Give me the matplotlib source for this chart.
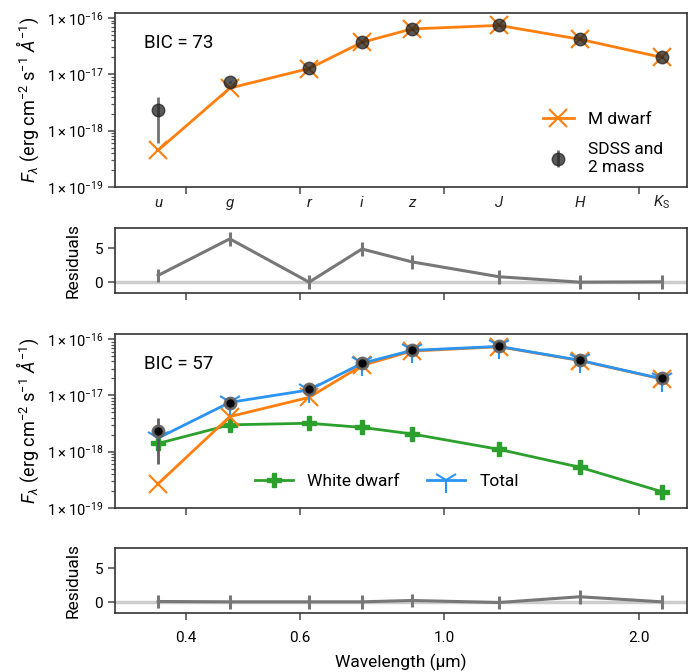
import matplotlib
matplotlib.use("Agg")
import matplotlib.pyplot as plt
from matplotlib.ticker import LogLocator, NullFormatter, FixedLocator, FixedFormatter, NullLocator

plt.rcParams["font.family"] = ["Roboto", "DejaVu Sans"]
plt.rcParams["mathtext.fontset"] = "custom"
plt.rcParams["mathtext.rm"] = "Roboto"
plt.rcParams["mathtext.it"] = "Roboto:italic"
plt.rcParams["mathtext.bf"] = "Roboto:bold"

# バンド (µm)
bands = ["u", "g", "r", "i", "z", "J", "H", r"K$_\mathrm{S}$"]
wavelength = [0.362, 0.467, 0.619, 0.747, 0.892, 1.216, 1.62, 2.17]

# 観測値 (SDSS + 2MASS)
obs_flux = [2.3e-18, 7.2e-18, 1.28e-17, 3.7e-17, 6.4e-17, 7.4e-17, 4.2e-17, 2.0e-17]
obs_err_lo = [1.7e-18, 0.3e-18, 0.5e-18, 1.5e-18, 2.5e-18, 3e-18, 1.5e-18, 0.8e-18]
obs_err_hi = [1.6e-18, 0.3e-18, 0.5e-18, 1.5e-18, 2.5e-18, 3e-18, 1.5e-18, 0.8e-18]

# 上段: M dwarf のみ
mdwarf_only = [4.5e-19, 5.7e-18, 1.27e-17, 3.7e-17, 6.4e-17, 7.4e-17, 4.2e-17, 2.0e-17]
resid_only = [1.0, 6.4, 0.0, 4.9, 3.0, 0.8, 0.0, 0.05]

# 下段: M dwarf + white dwarf
mdwarf_fit = [2.7e-19, 4.2e-18, 9.2e-18, 3.4e-17, 6.1e-17, 7.3e-17, 4.15e-17, 1.95e-17]
wdwarf_fit = [1.4e-18, 3.0e-18, 3.2e-18, 2.7e-18, 2.07e-18, 1.1e-18, 5.3e-19, 1.95e-19]
total_fit = [1.75e-18, 7.5e-18, 1.25e-17, 3.7e-17, 6.3e-17, 7.4e-17, 4.2e-17, 1.97e-17]
resid_fit = [0.1, 0.05, 0.05, 0.05, 0.25, -0.05, 0.8, 0.05]
resid_err = [1.0] * 8

xticks = [0.4, 0.6, 1.0, 2.0]
xticklabels = ["0.4", "0.6", "1.0", "2.0"]

ORANGE = "#ff7f0e"
GREEN = "#2ca02c"
BLUE = "#2b93f0"
GRAY = "#777777"
SPINE = "#333333"

fig = plt.figure(figsize=(6.94, 6.72), dpi=100)
L, W = 0.1657, 0.8242
ax1 = fig.add_axes([L, 0.7217, W, 0.259])
r1 = fig.add_axes([L, 0.5640, W, 0.0967])
ax2 = fig.add_axes([L, 0.2440, W, 0.259])
r2 = fig.add_axes([L, 0.0878, W, 0.0967])

ylabel = r"$F_\lambda$ (erg cm$^{-2}$ s$^{-1}$ $\mathit{\AA}^{-1}$)"


def style_axis(ax):
    ax.set_xscale("log")
    ax.set_xlim(0.3105, 2.372)
    ax.xaxis.set_major_locator(FixedLocator(xticks))
    ax.xaxis.set_minor_locator(NullLocator())
    ax.xaxis.set_major_formatter(NullFormatter())
    for s in ax.spines.values():
        s.set_color(SPINE)
        s.set_linewidth(1.2)
    ax.tick_params(axis="both", which="major", direction="out", length=5,
                   width=1.2, color="#555555", labelsize=11)
    ax.tick_params(axis="y", which="minor", direction="out", length=3,
                   width=0.9, color="#555555")
    ax.tick_params(axis="x", which="major", pad=8)


def style_flux(ax):
    style_axis(ax)
    ax.set_yscale("log")
    ax.set_ylim(1e-19, 1.23e-16)
    ax.yaxis.set_major_locator(FixedLocator([1e-19, 1e-18, 1e-17, 1e-16]))
    ax.yaxis.set_major_formatter(FixedFormatter(
        [r"$1\times10^{-19}$", r"$1\times10^{-18}$",
         r"$1\times10^{-17}$", r"$1\times10^{-16}$"]))
    ax.yaxis.set_minor_locator(LogLocator(base=10, subs=range(2, 10), numticks=20))
    ax.yaxis.set_minor_formatter(NullFormatter())
    ax.tick_params(axis="y", which="major", labelsize=10.5)
    ax.set_ylabel(ylabel, fontsize=13, labelpad=4)


def style_resid(ax, resid):
    style_axis(ax)
    ax.set_ylim(-1.6, 8.0)
    ax.set_yticks([0, 5])
    ax.axhline(0, color="#cccccc", lw=2.5, zorder=1)
    ax.errorbar(wavelength, resid, yerr=resid_err, color=GRAY, lw=2.2,
                elinewidth=2.2, capsize=0, zorder=2)
    ax.set_ylabel("Residuals", fontsize=12.5, labelpad=10)


# --- 上段 ---
style_flux(ax1)
ax1.plot(wavelength, mdwarf_only, color=ORANGE, lw=2, marker="x", ms=13,
         mew=1.5, label="M dwarf", zorder=2)
ax1.errorbar(wavelength, obs_flux, yerr=[obs_err_lo, obs_err_hi], fmt="o",
             color="#222222", alpha=0.75, ms=9, ecolor="#444444", elinewidth=2,
             capsize=0, label="SDSS and\n2 mass", zorder=3)
ax1.text(0.05, 0.83, "BIC = 73", transform=ax1.transAxes, fontsize=13.5,
         va="center")
ax1.legend(loc="lower right", frameon=False, fontsize=12.5, handlelength=1.8,
           bbox_to_anchor=(0.985, -0.02), labelspacing=0.9)
for wl, b in zip(wavelength, bands):
    ax1.text(wl, -0.09, b, transform=ax1.get_xaxis_transform(), fontsize=11,
             style="italic", ha="center", va="center", color="#222222")

style_resid(r1, resid_only)

# --- 下段 ---
style_flux(ax2)
ax2.plot(wavelength, wdwarf_fit, color=GREEN, lw=2, marker="P", ms=10,
         label="White dwarf", zorder=2)
ax2.plot(wavelength, mdwarf_fit, color=ORANGE, lw=2, marker="x", ms=13,
         mew=1.5, zorder=3)
ax2.plot(wavelength, total_fit, color=BLUE, lw=2, marker="1", ms=18,
         mew=1.5, label="Total", zorder=4)
ax2.errorbar(wavelength, obs_flux, yerr=[obs_err_lo, obs_err_hi], fmt="o",
             color="k", ms=8, mec="#666666", mew=2, ecolor="#555555",
             elinewidth=2, capsize=0, alpha=0.95, zorder=5)
ax2.text(0.05, 0.83, "BIC = 57", transform=ax2.transAxes, fontsize=13.5,
         va="center")
ax2.legend(loc="lower center", frameon=False, fontsize=12.5, ncol=2,
           bbox_to_anchor=(0.475, 0.02), handlelength=2.2, columnspacing=1.6)

style_resid(r2, resid_fit)
r2.xaxis.set_major_formatter(FixedFormatter(xticklabels))
r2.set_xlabel("Wavelength (µm)", fontsize=12.5, labelpad=6)

fig.savefig("out.png", dpi=100)
